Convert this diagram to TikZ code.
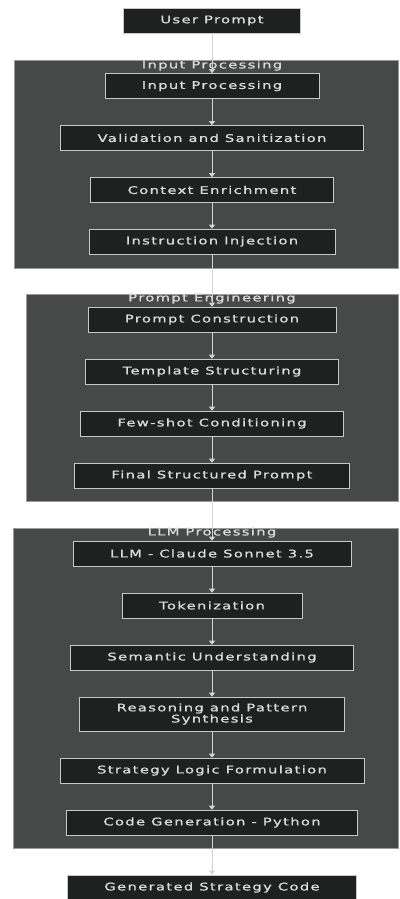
\documentclass[tikz,border=0pt]{standalone}
\usepackage{fontspec}
\newfontfamily\flowfont{DejaVu Sans}[FakeStretch=1.4,LetterSpace=13,FakeBold=1.2]
\usetikzlibrary{arrows.meta}
\definecolor{clusterbg}{HTML}{474848}
\definecolor{clusterline}{HTML}{9A9A9A}
\definecolor{nodebg}{HTML}{1F2020}
\definecolor{nodeline}{HTML}{C8C8C8}
\definecolor{flowtext}{HTML}{DADADA}
\definecolor{flowline}{HTML}{D3D3D3}

\begin{document}
\begin{tikzpicture}[x=1pt,y=-1pt,
		stage/.style={draw=nodeline, fill=nodebg, text=flowtext, font=\flowfont\fontsize{10.5}{10}\selectfont, align=center, minimum height=25pt, inner xsep=37pt, inner ysep=2pt, line width=0.6pt},
		group/.style={draw=clusterline, fill=clusterbg, line width=0.6pt},
		grouptitle/.style={text=flowtext, font=\flowfont\fontsize{10.5}{10}\selectfont, inner sep=0pt},
		flow/.style={draw=flowline, line width=0.8pt, -{Triangle[width=6pt,length=4pt]}}]
		\useasboundingbox[fill=white] (0,0) rectangle (399,899);
		\def\cx{212}
		% the three groups
		\draw[group] (14,60) rectangle (398,268);
		\draw[group] (26,294) rectangle (398,501);
		\draw[group] (13,528) rectangle (398,848);
		\node[grouptitle] (t1) at (\cx,65.5) {Input Processing};
		\node[grouptitle] (t2) at (\cx,298.5) {Prompt Engineering};
		\node[grouptitle] (t3) at (\cx,532.5) {LLM Processing};
		% steps
		\node[stage] (user) at (\cx,20.5) {User Prompt};
		\node[stage] (inp) at (\cx,86) {Input Processing};
		\node[stage] (valid) at (\cx,138) {Validation and Sanitization};
		\node[stage] (ctx) at (\cx,190) {Context Enrichment};
		\node[stage] (instr) at (\cx,241.5) {Instruction Injection};
		\node[stage] (build) at (\cx,319.5) {Prompt Construction};
		\node[stage] (tmpl) at (\cx,371.5) {Template Structuring};
		\node[stage] (few) at (\cx,423.5) {Few-shot Conditioning};
		\node[stage] (final) at (\cx,475.5) {Final Structured Prompt};
		\node[stage] (llm) at (\cx,553.5) {LLM - Claude Sonnet 3.5};
		\node[stage] (tok) at (\cx,605.5) {Tokenization};
		\node[stage] (sem) at (\cx,657.5) {Semantic Understanding};
		\node[stage, minimum height=34pt] (reason) at (\cx,714) {Reasoning and Pattern\\Synthesis};
		\node[stage] (logic) at (\cx,770.5) {Strategy Logic Formulation};
		\node[stage] (gen) at (\cx,822.5) {Code Generation - Python};
		\node[stage] (out) at (\cx,887.5) {Generated Strategy Code};
		% arrows
		\foreach \a/\b in {user/inp, inp/valid, valid/ctx, ctx/instr, instr/build, build/tmpl, tmpl/few, few/final, final/llm, llm/tok, tok/sem, sem/reason, reason/logic, logic/gen, gen/out}
			\draw[flow] (\a) -- (\b);
		\end{tikzpicture}
\end{document}
